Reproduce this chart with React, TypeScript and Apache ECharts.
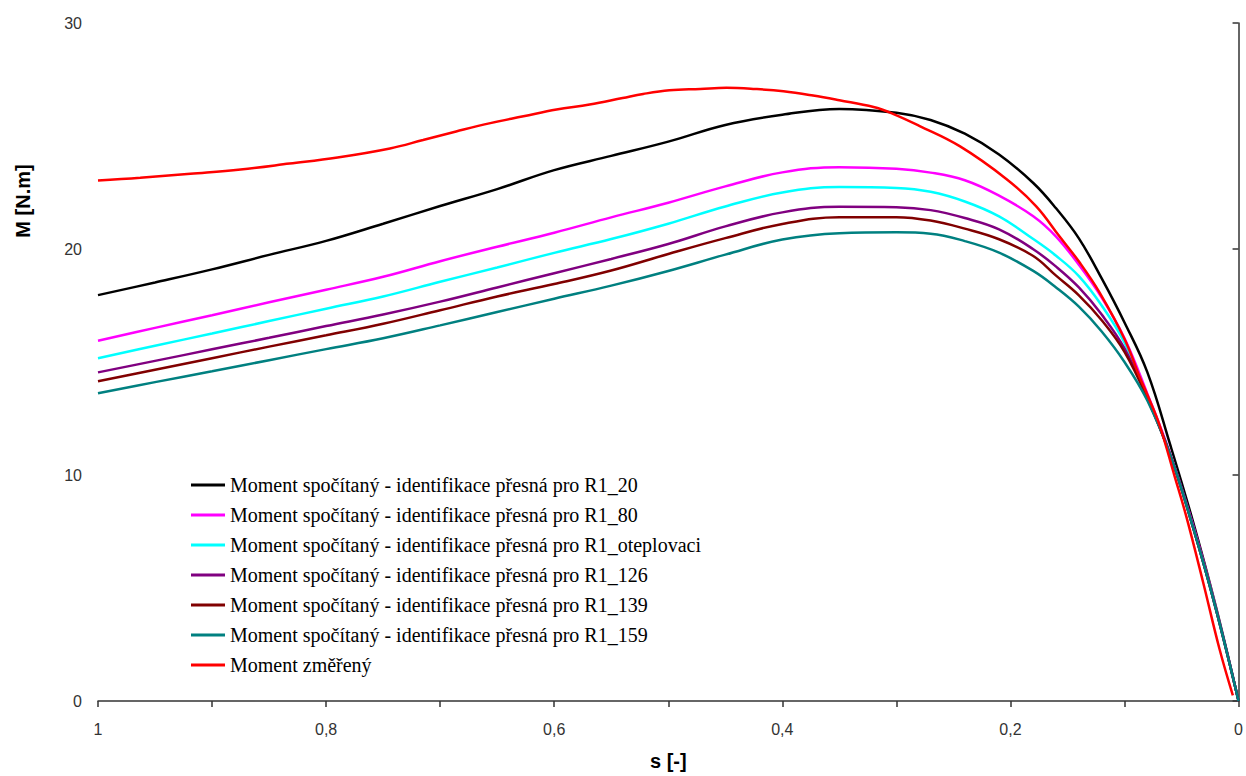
import React, { useEffect, useRef } from "react";
import * as echarts from "echarts";

// slip values shared by the computed curves
const S_CALC = [1, 0.95, 0.9, 0.85, 0.8, 0.75, 0.7, 0.65, 0.6, 0.55, 0.5, 0.45, 0.4, 0.35, 0.3, 0.27, 0.24, 0.21, 0.18, 0.16, 0.14, 0.12, 0.1, 0.08, 0.06, 0.04, 0.02, 0];

const M_R1_20 = [17.96, 18.52, 19.1, 19.74, 20.36, 21.12, 21.9, 22.65, 23.49, 24.12, 24.75, 25.49, 25.94, 26.2, 26.03, 25.71, 25.1, 24.18, 22.92, 21.8, 20.47, 18.7, 16.75, 14.55, 11.35, 7.95, 4.2, 0];
const M_R1_80 = [15.94, 16.51, 17.07, 17.64, 18.2, 18.77, 19.46, 20.1, 20.72, 21.4, 22.05, 22.77, 23.39, 23.62, 23.55, 23.38, 23.04, 22.36, 21.45, 20.55, 19.3, 17.85, 16.05, 13.6, 10.95, 7.8, 4.15, 0];
const M_R1_OTEPL = [15.17, 15.72, 16.26, 16.81, 17.36, 17.9, 18.55, 19.18, 19.83, 20.44, 21.12, 21.88, 22.5, 22.74, 22.7, 22.53, 22.1, 21.44, 20.44, 19.7, 18.8, 17.5, 15.85, 13.45, 10.9, 7.7, 4.1, 0];
const M_R1_126 = [14.54, 15.05, 15.56, 16.07, 16.59, 17.1, 17.67, 18.3, 18.93, 19.56, 20.22, 21.0, 21.62, 21.87, 21.85, 21.72, 21.37, 20.87, 19.99, 19.22, 18.3, 17.1, 15.6, 13.4, 10.9, 7.7, 4.1, 0];
const M_R1_139 = [14.15, 14.66, 15.17, 15.68, 16.18, 16.69, 17.29, 17.9, 18.45, 19.05, 19.78, 20.48, 21.11, 21.41, 21.41, 21.26, 20.9, 20.43, 19.69, 18.82, 17.95, 16.85, 15.45, 13.4, 10.9, 7.7, 4.1, 0];
const M_R1_159 = [13.62, 14.11, 14.59, 15.08, 15.57, 16.05, 16.62, 17.21, 17.8, 18.38, 19.03, 19.75, 20.42, 20.7, 20.74, 20.68, 20.35, 19.84, 19.03, 18.3, 17.45, 16.35, 15.0, 13.3, 10.9, 7.7, 4.1, 0];

// measured curve
const S_MEAS = [1, 0.963, 0.919, 0.875, 0.832, 0.79, 0.744, 0.715, 0.686, 0.656, 0.627, 0.598, 0.569, 0.54, 0.522, 0.499, 0.472, 0.449, 0.424, 0.399, 0.373, 0.35, 0.32, 0.303, 0.28, 0.2445, 0.2036, 0.1776, 0.1569, 0.1393, 0.1218, 0.0999, 0.0868, 0.0795, 0.0692, 0.0561, 0.046, 0.0313, 0.0167, 0.005];
const M_MEAS = [23.03, 23.15, 23.33, 23.52, 23.78, 24.05, 24.45, 24.82, 25.2, 25.57, 25.87, 26.17, 26.39, 26.68, 26.86, 27.02, 27.08, 27.13, 27.08, 26.98, 26.79, 26.58, 26.28, 25.98, 25.45, 24.55, 23.1, 21.9, 20.55, 19.4, 18.07, 16.01, 14.35, 13.5, 12.2, 9.95, 8.2, 5.3, 2.3, 0.25];

const NAMES = [
  "Moment spočítaný - identifikace přesná pro R1_20",
  "Moment spočítaný - identifikace přesná pro R1_80",
  "Moment spočítaný - identifikace přesná pro R1_oteplovaci",
  "Moment spočítaný - identifikace přesná pro R1_126",
  "Moment spočítaný - identifikace přesná pro R1_139",
  "Moment spočítaný - identifikace přesná pro R1_159",
  "Moment změřený",
];
const COLORS = ["#000000", "#ff00ff", "#00ffff", "#800080", "#800000", "#008080", "#ff0000"];

const X_NAME = "s [-]";
const Y_NAME = "M [N.m]";

export default function App() {
  const ref = useRef<HTMLDivElement>(null);
  useEffect(() => {
    if (!ref.current) return;
    const chart = echarts.init(ref.current, null, { renderer: "svg" });
    const calc = [M_R1_20, M_R1_80, M_R1_OTEPL, M_R1_126, M_R1_139, M_R1_159];
    const series: any[] = calc.map((vals, i) => ({
      name: NAMES[i],
      type: "line",
      data: S_CALC.map((s, k) => [s, vals[k]]),
      symbol: "none",
      smooth: 0.4,
      lineStyle: { color: COLORS[i], width: 2.5 },
      itemStyle: { color: COLORS[i] },
    }));
    series.push({
      name: NAMES[6],
      type: "line",
      data: S_MEAS.map((s, k) => [s, M_MEAS[k]]),
      symbol: "none",
      smooth: 0.4,
      lineStyle: { color: COLORS[6], width: 2.5 },
      itemStyle: { color: COLORS[6] },
    });
    const axisColor = "#333333";
    chart.setOption({
      animation: false,
      backgroundColor: "#ffffff",
      grid: { left: 98, right: 7, top: 23, bottom: 73 },
      legend: {
        orient: "vertical",
        left: 186,
        top: 470,
        icon: "rect",
        itemWidth: 34,
        itemHeight: 3,
        itemGap: 10,
        data: NAMES,
        textStyle: { fontFamily: "Liberation Serif", fontSize: 20, color: "#000", lineHeight: 20 },
      },
      xAxis: {
        type: "value",
        inverse: true,
        min: 0,
        max: 1,
        interval: 0.1,
        name: X_NAME,
        nameLocation: "middle",
        nameGap: 50,
        nameTextStyle: { fontFamily: "Liberation Sans", fontSize: 20, fontWeight: "bold", color: "#000" },
        axisLine: { lineStyle: { color: axisColor, width: 1.5 } },
        axisTick: { show: true, inside: false, length: 6, lineStyle: { color: axisColor, width: 1.5 } },
        axisLabel: {
          margin: 20,
          fontFamily: "Liberation Sans",
          fontSize: 16,
          color: "#333",
          formatter: (v: number) => {
            const t = Math.round(v * 10);
            if (t % 2 !== 0) return "";
            return String(t / 10).replace(".", ",");
          },
        },
        splitLine: { show: false },
      },
      yAxis: {
        type: "value",
        min: 0,
        max: 30,
        interval: 10,
        axisLine: { show: true, lineStyle: { color: axisColor, width: 1.5 } },
        axisTick: { show: true, inside: false, length: 6, lineStyle: { color: axisColor, width: 1.5 } },
        axisLabel: { margin: 16, fontFamily: "Liberation Sans", fontSize: 16, color: "#333" },
        splitLine: { show: false },
      },
      graphic: [
        {
          type: "text",
          x: 23,
          y: 201,
          rotation: Math.PI / 2,
          style: {
            text: Y_NAME,
            fontFamily: "Liberation Sans",
            fontSize: 20,
            fontWeight: "bold",
            fill: "#000",
            align: "center",
            verticalAlign: "middle",
          },
        },
      ],
      series,
    });
    return () => chart.dispose();
  }, []);
  return <div ref={ref} style={{ position: "absolute", left: 0, top: 0, width: 1246, height: 776 }} />;
}
